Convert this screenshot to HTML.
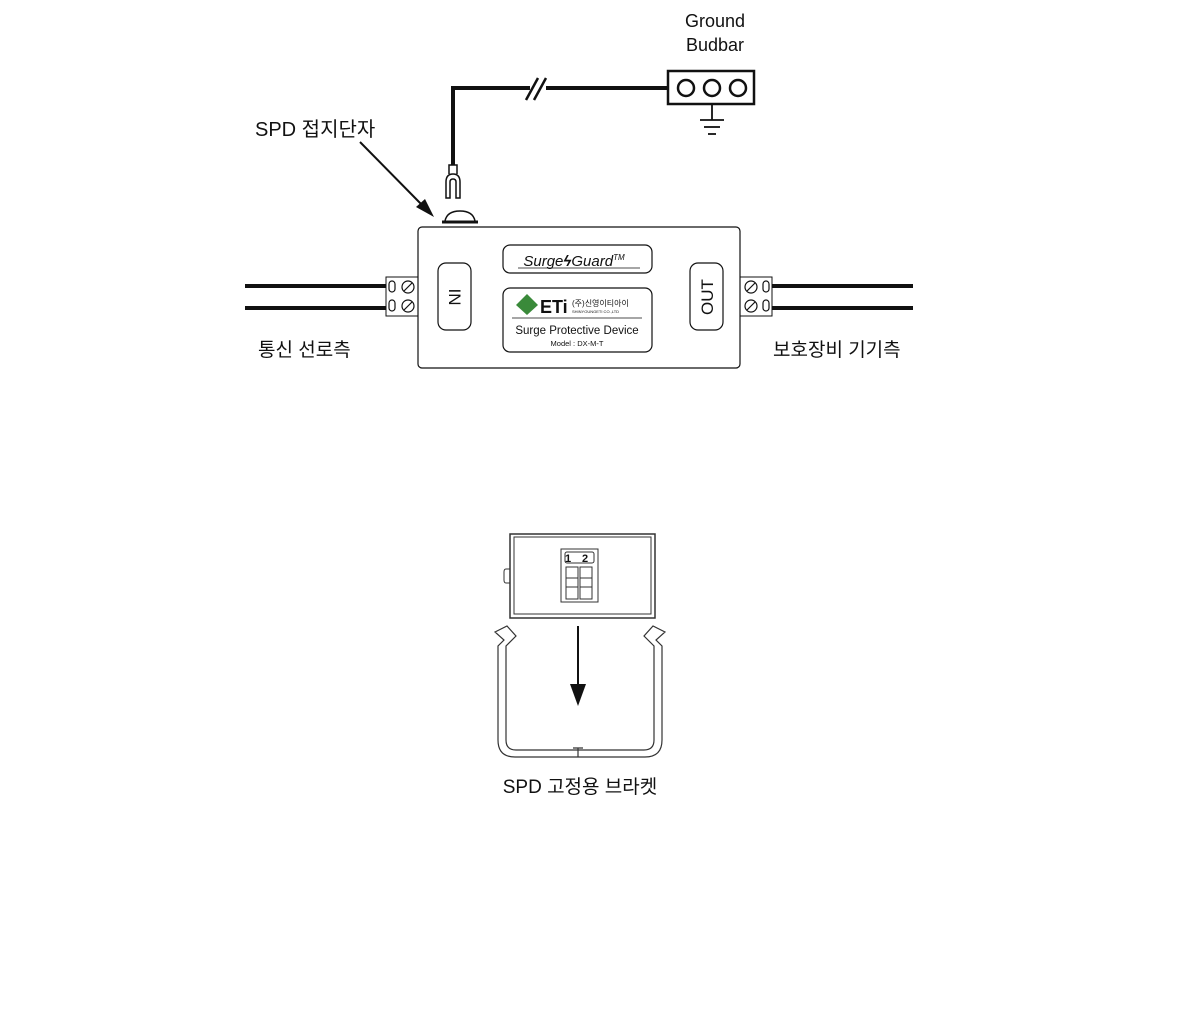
<!DOCTYPE html><html><head><meta charset="utf-8"><style>body{margin:0;background:#fff}svg{display:block}text{font-family:"Liberation Sans","Noto Sans CJK KR",sans-serif;fill:#111}</style></head><body>
<svg width="1200" height="1018" viewBox="0 0 1200 1018">
<text x="715" y="27" font-size="18" text-anchor="middle">Ground</text>
<text x="715" y="51" font-size="18" text-anchor="middle">Budbar</text>
<rect x="668" y="71" width="86" height="33" fill="#fff" stroke="#111" stroke-width="2.5"/>
<circle cx="686" cy="88" r="8" fill="none" stroke="#111" stroke-width="2.5"/>
<circle cx="712" cy="88" r="8" fill="none" stroke="#111" stroke-width="2.5"/>
<circle cx="738" cy="88" r="8" fill="none" stroke="#111" stroke-width="2.5"/>
<g stroke="#111" stroke-width="1.8"><line x1="712" y1="104" x2="712" y2="120"/><line x1="700" y1="120" x2="724" y2="120"/><line x1="704" y1="127" x2="720" y2="127"/><line x1="708" y1="134" x2="716" y2="134"/></g>
<path d="M668 88 H546 M530 88 H453 V165" fill="none" stroke="#111" stroke-width="4"/>
<path d="M526 100 L538 78 M534 100 L546 78" stroke="#111" stroke-width="2.5"/>
<path d="M446 198 V182 Q446 174 453 174 Q460 174 460 182 V198 H456 V182 Q456 179 453 179 Q450 179 450 182 V198 Z M449 174 V165 H457 V174" fill="#fff" stroke="#111" stroke-width="1.5"/>
<path d="M445 221 Q447 211 460 211 Q473 211 475 221" fill="#fff" stroke="#111" stroke-width="1.5"/>
<line x1="442" y1="222" x2="478" y2="222" stroke="#111" stroke-width="3"/>
<text x="255" y="136" font-size="20">SPD 접지단자</text>
<line x1="360" y1="142" x2="424" y2="207" stroke="#111" stroke-width="2"/>
<polygon points="434,217 416,207 425,199" fill="#111"/>
<g stroke="#111" stroke-width="4"><line x1="245" y1="286" x2="388" y2="286"/><line x1="245" y1="308" x2="388" y2="308"/><line x1="770" y1="286" x2="913" y2="286"/><line x1="770" y1="308" x2="913" y2="308"/></g>
<rect x="386" y="277" width="32" height="39" fill="#fff" stroke="#111" stroke-width="1"/>
<rect x="740" y="277" width="32" height="39" fill="#fff" stroke="#111" stroke-width="1"/>
<g fill="none" stroke="#111" stroke-width="1.2">
<rect x="389" y="281" width="6" height="11" rx="3"/><rect x="389" y="300" width="6" height="11" rx="3"/>
<circle cx="408" cy="287" r="6"/><circle cx="408" cy="306" r="6"/>
<line x1="404" y1="291" x2="412" y2="283"/><line x1="404" y1="310" x2="412" y2="302"/>
<rect x="763" y="281" width="6" height="11" rx="3"/><rect x="763" y="300" width="6" height="11" rx="3"/>
<circle cx="751" cy="287" r="6"/><circle cx="751" cy="306" r="6"/>
<line x1="747" y1="291" x2="755" y2="283"/><line x1="747" y1="310" x2="755" y2="302"/></g>
<rect x="418" y="227" width="322" height="141" rx="4" fill="#fff" stroke="#111" stroke-width="1.2"/>
<rect x="438" y="263" width="33" height="67" rx="8" fill="#fff" stroke="#111" stroke-width="1.2"/>
<rect x="690" y="263" width="33" height="67" rx="8" fill="#fff" stroke="#111" stroke-width="1.2"/>
<text transform="translate(455,297) rotate(90)" font-size="17" text-anchor="middle" dy="6">IN</text>
<text transform="translate(707,297) rotate(-90)" font-size="17" text-anchor="middle" dy="6">OUT</text>
<rect x="503" y="245" width="149" height="28" rx="7" fill="#fff" stroke="#111" stroke-width="1.2"/>
<text x="574" y="266" font-size="15" font-style="italic" text-anchor="middle">Surge<tspan font-weight="bold">ϟ</tspan>Guard<tspan font-size="8" dy="-6">TM</tspan></text>
<line x1="518" y1="268" x2="640" y2="268" stroke="#111" stroke-width="0.8"/>
<rect x="503" y="288" width="149" height="64" rx="7" fill="#fff" stroke="#111" stroke-width="1.2"/>
<polygon points="516,305 527,294 538,305 527,315" fill="#3a8a3a"/>
<text x="540" y="313" font-size="18" font-weight="bold">ETi</text>
<text x="572" y="306" font-size="8">(주)신영이티아이</text>
<text x="572" y="313" font-size="4">SHINYOUNGETI CO.,LTD</text>
<line x1="512" y1="318" x2="642" y2="318" stroke="#111" stroke-width="0.8"/>
<text x="577" y="334" font-size="11.5" text-anchor="middle">Surge Protective Device</text>
<text x="577" y="346" font-size="7.5" text-anchor="middle">Model : DX-M-T</text>
<text x="258" y="356" font-size="19">통신 선로측</text>
<text x="773" y="356" font-size="19">보호장비 기기측</text>
<rect x="510" y="534" width="145" height="84" fill="#fff" stroke="#333" stroke-width="1.5"/>
<rect x="514" y="537" width="137" height="77" fill="none" stroke="#333" stroke-width="1"/>
<path d="M510 569 H506 Q504 569 504 572 V580 Q504 583 506 583 H510" fill="none" stroke="#333" stroke-width="1"/>
<rect x="561" y="549" width="37" height="53" fill="none" stroke="#333" stroke-width="1"/>
<rect x="565" y="552" width="29" height="11" rx="2" fill="none" stroke="#333" stroke-width="1"/>
<text x="565" y="562" font-size="11" font-weight="bold">1</text><text x="582" y="562" font-size="11" font-weight="bold">2</text>
<g fill="none" stroke="#333" stroke-width="1"><rect x="566" y="567" width="12" height="32"/><rect x="580" y="567" width="12" height="32"/><rect x="566" y="578" width="12" height="9"/><rect x="580" y="578" width="12" height="9"/></g>
<line x1="578" y1="626" x2="578" y2="686" stroke="#111" stroke-width="2"/>
<polygon points="570,684 586,684 578,706" fill="#111"/>
<path d="M495 632 L507 626 L516 636 L506 646 V740 Q506 750 516 750 H644 Q654 750 654 740 V646 L644 636 L653 626 L665 632 L656 640 L662 646 V740 Q662 757 645 757 H515 Q498 757 498 740 V646 L504 640 Z" fill="none" stroke="#333" stroke-width="1.2"/>
<path d="M573 748 H583 M578 748 V757" stroke="#333" stroke-width="1.2"/>
<text x="580" y="793" font-size="19" text-anchor="middle">SPD 고정용 브라켓</text>
</svg></body></html>
